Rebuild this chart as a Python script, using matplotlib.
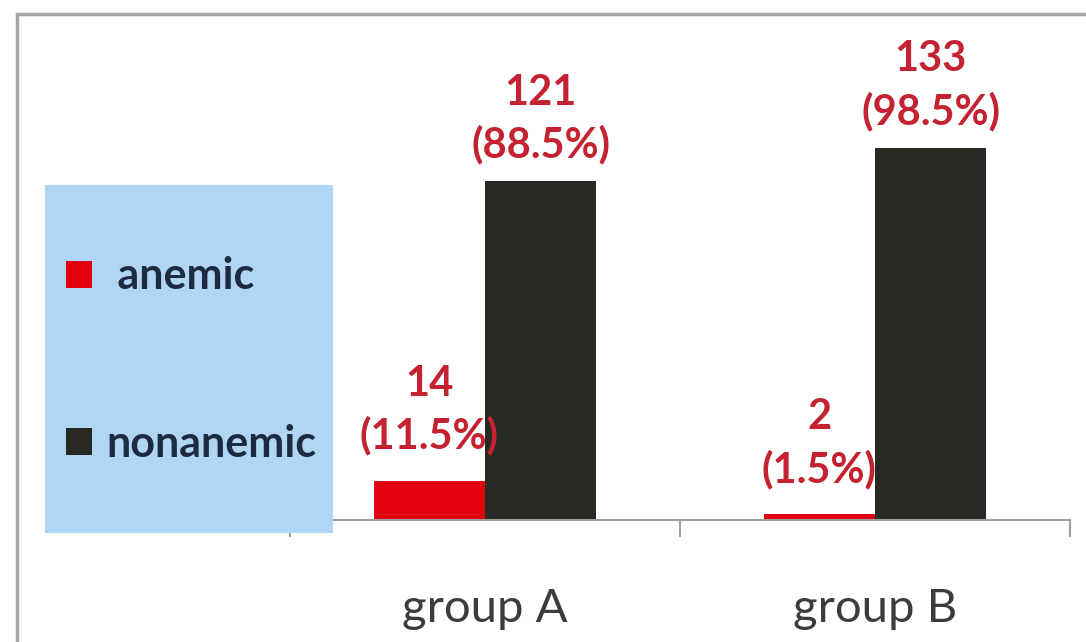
import matplotlib.pyplot as plt
from matplotlib.patches import Rectangle

# data
groups = ["group A", "group B"]
anemic = [14, 2]
nonanemic = [121, 133]
anemic_pct = ["11.5%", "1.5%"]
nonanemic_pct = ["88.5%", "98.5%"]

plt.rcParams['font.family'] = ['Lato', 'DejaVu Sans']

W, H = 1086, 642
fig = plt.figure(figsize=(W / 100, H / 100), dpi=100)

# outer chart frame (bottom and right edges run off the picture)
fig.patches.append(Rectangle((17 / W, -0.05), 1.1, 1.05 - 14 / H,
                             transform=fig.transFigure, fill=False,
                             edgecolor='#a6a6a6', linewidth=2.5))

# light blue legend box
fig.patches.append(Rectangle((45 / W, 1 - 533 / H), (333 - 45) / W, (533 - 185) / H,
                             transform=fig.transFigure, facecolor='#b0d6f4',
                             edgecolor='none', zorder=0))

ax = fig.add_axes([290 / W, 1 - 520 / H, 780 / W, 392 / H])
ax.patch.set_alpha(0)

x = list(range(len(groups)))
width = 0.285
off = 0.143
red = '#e3000f'
black = '#262a23'
lab_col = '#c42230'

b1 = ax.bar([i - off for i in x], anemic, width, color=red, label=' anemic')
b2 = ax.bar([i + off for i in x], nonanemic, width, color=black, label='nonanemic')

for bars, vals, pcts, pad in [(b1, anemic, anemic_pct, 18), (b2, nonanemic, nonanemic_pct, 12)]:
    for rect, v, p in zip(bars, vals, pcts):
        ax.annotate(f"{v}\n({p})", (rect.get_x() + rect.get_width() / 2, rect.get_height()),
                    xytext=(0, pad), textcoords='offset points', ha='center', va='bottom',
                    fontsize=30, fontweight='bold', color=lab_col, linespacing=1.4)

ax.set_xlim(-0.5, len(groups) - 0.5)
ax.set_ylim(0, 140)
ax.set_yticks([])
for s in ['top', 'right', 'left']:
    ax.spines[s].set_visible(False)
ax.spines['bottom'].set_color('#a0a0a0')
ax.spines['bottom'].set_linewidth(1.5)

ax.set_xticks([i - 0.5 for i in range(len(groups) + 1)])
ax.set_xticklabels([])
ax.tick_params(axis='x', length=12, width=1.5, color='#a0a0a0')
ax.set_xticks(x, minor=True)
ax.set_xticklabels(groups, minor=True, fontsize=34, color='#3c3c3c')
ax.tick_params(axis='x', which='minor', length=0, pad=49)

fig.legend(handles=[b1, b2], loc='center left', bbox_to_anchor=(27 / W, 1 - 360 / H),
           frameon=False, labelcolor='#1c2b40', prop={'weight': 'bold', 'size': 31},
           handlelength=0.6, handleheight=0.6, handletextpad=0.35, labelspacing=2.95)

fig.savefig('out.png', dpi=100)
